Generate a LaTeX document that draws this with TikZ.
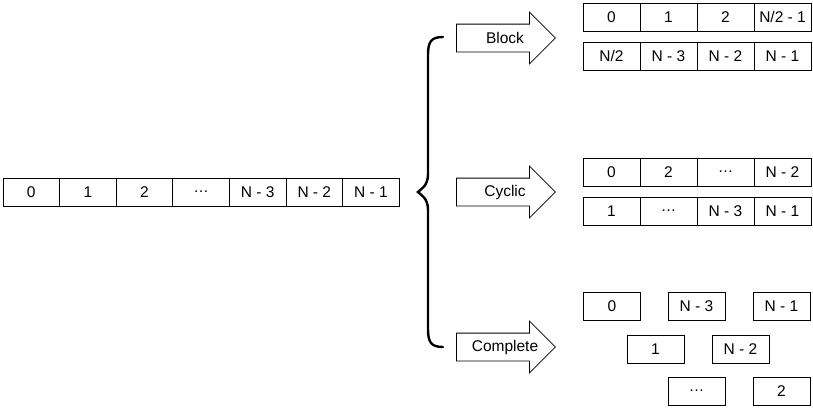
\documentclass[tikz,border=0pt]{standalone}
\usepackage{fontspec}
\setmainfont{Liberation Sans}
\usetikzlibrary{shapes.arrows}

\begin{document}
\begin{tikzpicture}[
    x=1pt, y=-1pt,
    every node/.style={font=\fontsize{15.5}{18}\selectfont},
    cell/.style={
        draw, line width=0.8pt,
        minimum width=56.6pt, minimum height=28pt,
        inner sep=0pt, anchor=center
    },
    rcell/.style={cell, minimum width=57pt},
    fatarrow/.style={
        draw, line width=0.8pt, single arrow, anchor=tail,
        minimum height=99pt, minimum width=51pt,
        single arrow head extend=12pt,
        text height=11pt, text depth=3pt, inner ysep=6.5pt
    },
    alabel/.style={inner sep=0pt}
]
\useasboundingbox (0,0) rectangle (813,407);

% Eingangsfeld
\node[cell] (a0) at (31.3,192)  {0};
\node[cell] (a1) at (87.9,192)  {1};
\node[cell] (a2) at (144.5,192) {2};
\node[cell] (a3) at (201.1,192) {\ldots};
\node[cell] (a4) at (257.7,192) {N - 3};
\node[cell] (a5) at (314.3,192) {N - 2};
\node[cell] (a6) at (370.9,192) {N - 1};

% Klammer
\draw[line width=2.4pt, line cap=round]
    (443,37) .. controls (431,37) and (428,42) .. (428,55)
    -- (428,174) .. controls (428,186) and (421,189) .. (418,192)
    .. controls (421,195) and (428,198) .. (428,210)
    -- (428,329) .. controls (428,342) and (431,347) .. (443,347);

% Pfeile
\node[fatarrow] (block)    at (456,38)  {};
\node[fatarrow] (cyclic)   at (456,192) {};
\node[fatarrow] (complete) at (456,347) {};
\node[alabel] (blocktxt)    at (505,38)  {Block};
\node[alabel] (cyclictxt)   at (505,192) {Cyclic};
\node[alabel] (completetxt) at (505,347) {Complete};

% Block
\node[rcell] (b0) at (611.5,17) {0};
\node[rcell] (b1) at (668.5,17) {1};
\node[rcell] (b2) at (725.5,17) {2};
\node[rcell] (b3) at (782.5,17) {N/2 - 1};
\node[rcell] (b4) at (611.5,56) {N/2};
\node[rcell] (b5) at (668.5,56) {N - 3};
\node[rcell] (b6) at (725.5,56) {N - 2};
\node[rcell] (b7) at (782.5,56) {N - 1};

% Cyclic
\node[rcell] (c0) at (611.5,172) {0};
\node[rcell] (c1) at (668.5,172) {2};
\node[rcell] (c2) at (725.5,172) {\ldots};
\node[rcell] (c3) at (782.5,172) {N - 2};
\node[rcell] (c4) at (611.5,211) {1};
\node[rcell] (c5) at (668.5,211) {\ldots};
\node[rcell] (c6) at (725.5,211) {N - 3};
\node[rcell] (c7) at (782.5,211) {N - 1};

% Complete
\node[rcell] (d0) at (612,306)   {0};
\node[rcell] (d1) at (696.5,306) {N - 3};
\node[rcell] (d2) at (781.5,306) {N - 1};
\node[rcell] (d3) at (655.5,349) {1};
\node[rcell] (d4) at (740.5,349) {N - 2};
\node[rcell] (d5) at (696.5,391) {\ldots};
\node[rcell] (d6) at (781.5,391) {2};

\end{tikzpicture}
\end{document}
